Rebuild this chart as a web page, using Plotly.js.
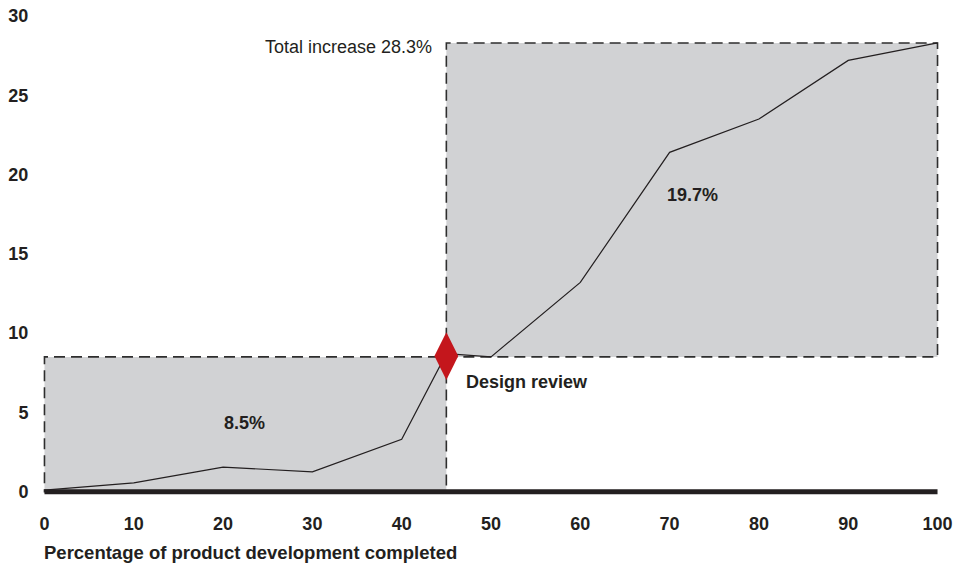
<!DOCTYPE html>
<html>
<head>
<meta charset="utf-8">
<script src="https://cdn.plot.ly/plotly-3.0.1.min.js"></script>
<style>
  html, body { margin: 0; padding: 0; background: #ffffff; }
  #chart { width: 972px; height: 567px; }
</style>
</head>
<body>
<div id="chart"></div>
<script>
// ---- Data ----
var progressPct = [0, 10, 20, 30, 40, 45, 50, 60, 70, 80, 90, 100];
var costIncrease = [0.1, 0.55, 1.55, 1.25, 3.3, 8.7, 8.5, 13.2, 21.4, 23.5, 27.2, 28.3];
var phaseBounds = [0, 45, 100];          // start, design review, end
var phaseLevels = [0, 8.5, 28.3];        // level at start, design review, end
var phaseLabels = ['8.5%', '19.7%'];
var milestoneX = [45];
var milestoneY = [8.55];
var milestoneLabel = 'Design review';
var totalLabel = 'Total increase 28.3%';
var xTicks = [0, 10, 20, 30, 40, 50, 60, 70, 80, 90, 100];
var yTicks = [0, 5, 10, 15, 20, 25, 30];
var xAxisTitle = 'Percentage of product development completed';

// ---- Styles ----
var FONT = '"Liberation Sans", Arial, Helvetica, sans-serif';
var INK = '#231f20';
var BOX_FILL = '#d1d2d4';
var DASH_COLOR = '#2e2e2e';

var boxShapes = [];
for (var i = 0; i < phaseBounds.length - 1; i++) {
  boxShapes.push({
    type: 'rect', xref: 'x', yref: 'y', layer: 'between',
    x0: phaseBounds[i], x1: phaseBounds[i + 1],
    y0: phaseLevels[i], y1: phaseLevels[i + 1],
    fillcolor: BOX_FILL,
    line: { color: DASH_COLOR, width: 1.6, dash: '11px,6px' }
  });
}
// thick baseline
boxShapes.push({
  type: 'line', xref: 'x', yref: 'y', layer: 'above',
  x0: phaseBounds[0], x1: phaseBounds[phaseBounds.length - 1],
  y0: 0, y1: 0,
  line: { color: INK, width: 5 }
});

var traces = [
  {
    x: progressPct, y: costIncrease,
    type: 'scatter', mode: 'lines',
    line: { color: INK, width: 1.2 },
    hoverinfo: 'skip', showlegend: false
  },
  {
    x: milestoneX, y: milestoneY,
    type: 'scatter', mode: 'markers',
    marker: { symbol: 'diamond-tall', size: 34, color: '#c4161c', line: { width: 0 } },
    hoverinfo: 'skip', showlegend: false
  }
];

var annotations = [
  {
    xref: 'x', yref: 'y', x: 22.4, y: 4.32, text: '<b>' + phaseLabels[0] + '</b>',
    showarrow: false, font: { family: FONT, size: 18, color: INK }
  },
  {
    xref: 'x', yref: 'y', x: 72.6, y: 18.7, text: '<b>' + phaseLabels[1] + '</b>',
    showarrow: false, font: { family: FONT, size: 18, color: INK }
  },
  {
    xref: 'x', yref: 'y', x: 47.0, y: 6.93, xanchor: 'left', text: '<b>' + milestoneLabel + '</b>',
    showarrow: false, font: { family: FONT, size: 18, color: INK }
  },
  {
    xref: 'x', yref: 'y', x: 43.6, y: 28.05, xanchor: 'right', text: totalLabel,
    showarrow: false, font: { family: FONT, size: 18, color: INK }
  },
  {
    xref: 'paper', yref: 'paper', x: 0.0, y: 0, xanchor: 'left', yanchor: 'middle',
    xshift: 1.5, yshift: -54.5,
    text: '<b>' + xAxisTitle + '</b>',
    showarrow: false, font: { family: FONT, size: 18.5, color: INK }
  }
];

var layout = {
  width: 972, height: 567,
  margin: { l: 39.5, r: 29.5, t: 16, b: 69 },
  paper_bgcolor: '#ffffff', plot_bgcolor: '#ffffff',
  font: { family: FONT, size: 18, color: INK },
  showlegend: false,
  xaxis: {
    range: [-0.5, 100.5], tickvals: xTicks, ticktext: xTicks.map(function (v) { return '<b>' + v + '</b>'; }),
    showgrid: false, zeroline: false, showline: false,
    ticks: 'outside', ticklen: 9, tickcolor: 'rgba(0,0,0,0)',
    tickfont: { family: FONT, size: 18, color: INK }
  },
  yaxis: {
    range: [-0.4, 30], tickvals: yTicks, ticktext: yTicks.map(function (v) { return '<b>' + v + '</b>'; }),
    showgrid: false, zeroline: false, showline: false,
    ticks: 'outside', ticklen: 7, tickcolor: 'rgba(0,0,0,0)',
    tickfont: { family: FONT, size: 18, color: INK }
  },
  shapes: boxShapes,
  annotations: annotations
};

Plotly.newPlot('chart', traces, layout, { staticPlot: true, displayModeBar: false });
</script>
</body>
</html>
